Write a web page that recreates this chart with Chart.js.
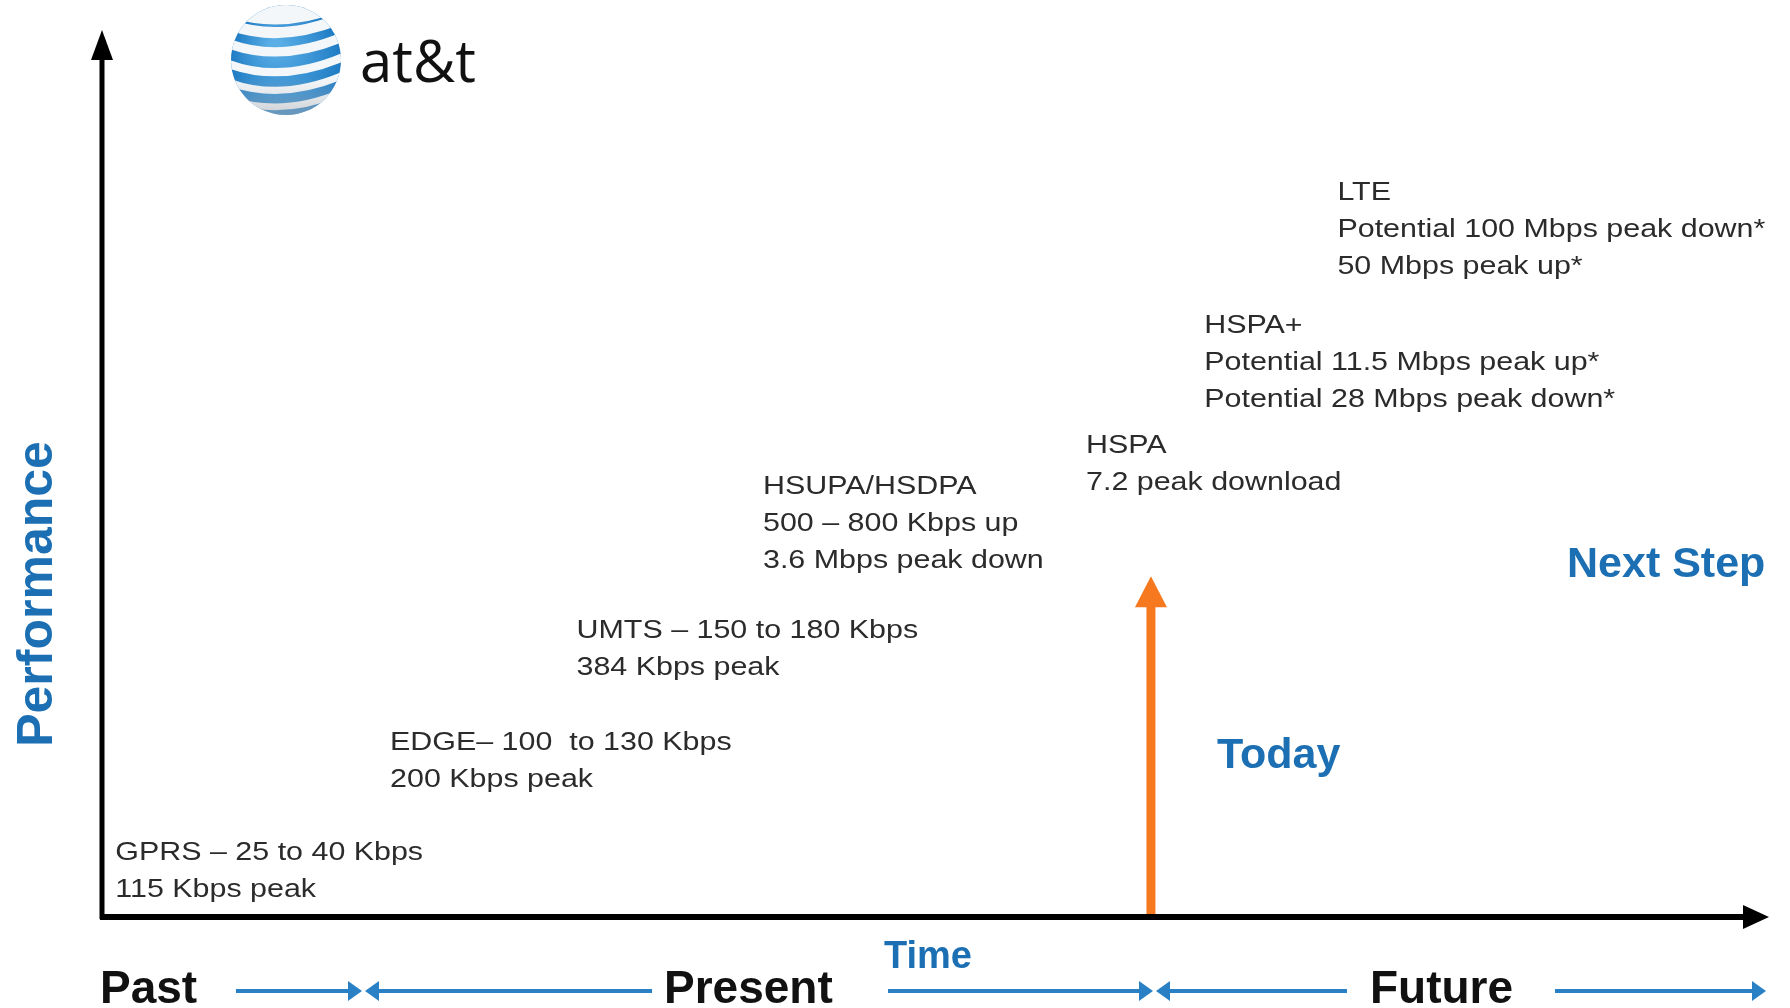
<!DOCTYPE html>
<html>
<head>
<meta charset="utf-8">
<script src="https://cdn.jsdelivr.net/npm/chart.js@4.4.1/dist/chart.umd.min.js"></script>
<style>
  html, body { margin: 0; padding: 0; background: #fff; }
  #evoChart { display: block; }
</style>
</head>
<body>
<canvas id="evoChart" width="1790" height="1008"></canvas>
<script>
// technologies along the time axis
var techNames = ["GPRS", "EDGE", "UMTS", "HSUPA/HSDPA", "HSPA", "HSPA+", "LTE"];
var timeValues = [0.8, 17.3, 28.5, 39.7, 59.1, 66.2, 74.2];
var performanceValues = [6.4, 18.9, 31.5, 47.8, 52.4, 66.0, 81.0];
var techLines = [
  ["GPRS \u2013 25 to 40 Kbps", "115 Kbps peak"],
  ["EDGE\u2013 100  to 130 Kbps", "200 Kbps peak"],
  ["UMTS \u2013 150 to 180 Kbps", "384 Kbps peak"],
  ["HSUPA/HSDPA", "500 \u2013 800 Kbps up", "3.6 Mbps peak down"],
  ["HSPA", "7.2 peak download"],
  ["HSPA+", "Potential 11.5 Mbps peak up*", "Potential 28 Mbps peak down*"],
  ["LTE", "Potential 100 Mbps peak down*", "50 Mbps peak up*"]
];
var todayTime = 63.0;
var todayLevel = 38.5;
var phaseLabels = ["Past", "Present", "Future"];

var BLUE = "#1c6fb3";
var ORANGE = "#f6791f";

function stretchText(ctx, txt, x, y, sx) {
  ctx.save();
  ctx.translate(x, y);
  ctx.scale(sx, 1);
  ctx.fillText(txt, 0, 0);
  ctx.restore();
}

function arrowHead(ctx, tipX, tipY, dir, len, half, color) {
  ctx.fillStyle = color;
  ctx.beginPath();
  if (dir === "up") {
    ctx.moveTo(tipX, tipY); ctx.lineTo(tipX - half, tipY + len); ctx.lineTo(tipX + half, tipY + len);
  } else if (dir === "right") {
    ctx.moveTo(tipX, tipY); ctx.lineTo(tipX - len, tipY - half); ctx.lineTo(tipX - len, tipY + half);
  } else {
    ctx.moveTo(tipX, tipY); ctx.lineTo(tipX + len, tipY - half); ctx.lineTo(tipX + len, tipY + half);
  }
  ctx.closePath();
  ctx.fill();
}

function drawGlobe(ctx, cx, cy, r) {
  ctx.save();
  ctx.beginPath();
  ctx.arc(cx, cy, r, 0, Math.PI * 2);
  ctx.clip();
  var g = ctx.createRadialGradient(cx - r * 0.2, cy - r * 0.3, r * 0.1, cx, cy, r);
  g.addColorStop(0, "#5aaee6");
  g.addColorStop(1, "#1f7cc4");
  ctx.fillStyle = g;
  ctx.fillRect(cx - r, cy - r, r * 2, r * 2);
  // white bands
  ctx.strokeStyle = "#f4f7fa";
  ctx.lineCap = "round";
  var bands = [[-0.95, 0.5], [-0.55, 0.2], [-0.2, 0.17], [0.17, 0.15], [0.5, 0.13], [0.8, 0.12]];
  bands.forEach(function (b) {
    var y0 = cy + b[0] * r;
    ctx.lineWidth = b[1] * r;
    ctx.beginPath();
    ctx.moveTo(cx - r * 1.1, y0 - r * 0.12);
    ctx.quadraticCurveTo(cx - r * 0.1, y0 + r * 0.28, cx + r * 1.1, y0 - r * 0.25);
    ctx.stroke();
  });
  var shade = ctx.createLinearGradient(0, cy + r * 0.3, 0, cy + r);
  shade.addColorStop(0, "rgba(200,200,200,0)");
  shade.addColorStop(1, "rgba(170,175,180,0.55)");
  ctx.fillStyle = shade;
  ctx.fillRect(cx - r, cy, r * 2, r);
  ctx.restore();
}

var diagramPlugin = {
  id: "diagram",
  afterDatasetsDraw: function (chart) {
    var ctx = chart.ctx;
    var area = chart.chartArea;
    var xs = chart.scales.x, ys = chart.scales.y;
    ctx.save();

    // axes
    ctx.strokeStyle = "#000";
    ctx.lineWidth = 5;
    ctx.beginPath();
    ctx.moveTo(area.left, area.bottom + 2);
    ctx.lineTo(area.left, area.top + 25);
    ctx.stroke();
    arrowHead(ctx, area.left, area.top - 2, "up", 30, 11, "#000");
    ctx.lineWidth = 6;
    ctx.beginPath();
    ctx.moveTo(area.left - 2, area.bottom);
    ctx.lineTo(area.right - 20, area.bottom);
    ctx.stroke();
    arrowHead(ctx, area.right + 2, area.bottom, "right", 26, 12, "#000");

    // today arrow
    var tx = xs.getPixelForValue(todayTime);
    var ty = ys.getPixelForValue(todayLevel);
    ctx.strokeStyle = ORANGE;
    ctx.lineWidth = 9;
    ctx.beginPath();
    ctx.moveTo(tx, area.bottom - 3);
    ctx.lineTo(tx, ty + 25);
    ctx.stroke();
    arrowHead(ctx, tx, ty, "up", 31, 16, ORANGE);

    // technology labels
    var meta = chart.getDatasetMeta(0);
    ctx.fillStyle = "#2b2b2b";
    ctx.font = "26px 'Liberation Sans', Arial, sans-serif";
    ctx.textBaseline = "alphabetic";
    ctx.textAlign = "left";
    meta.data.forEach(function (pt, i) {
      techLines[i].forEach(function (line, j) {
        stretchText(ctx, line, pt.x, pt.y + j * 37, 1.17);
      });
    });

    // blue labels
    ctx.fillStyle = BLUE;
    ctx.font = "bold 43px 'Liberation Sans', Arial, sans-serif";
    ctx.fillText("Today", 1217, 768);
    ctx.fillText("Next Step", 1567, 577);
    ctx.font = "bold 38px 'Liberation Sans', Arial, sans-serif";
    ctx.fillText("Time", 884, 968);
    ctx.save();
    ctx.translate(52, 594);
    ctx.rotate(-Math.PI / 2);
    ctx.textAlign = "center";
    ctx.font = "bold 50px 'Liberation Sans', Arial, sans-serif";
    ctx.fillText("Performance", 0, 0);
    ctx.restore();

    // phases row
    ctx.fillStyle = "#111";
    ctx.font = "bold 46px 'Liberation Sans', Arial, sans-serif";
    ctx.fillText(phaseLabels[0], 100, 1003);
    ctx.fillText(phaseLabels[1], 664, 1003);
    ctx.fillText(phaseLabels[2], 1370, 1003);

    var ay = 991;
    ctx.strokeStyle = "#2a80c4";
    ctx.lineWidth = 4;
    var segs = [[236, 350], [375, 652], [888, 1141], [1165, 1347], [1555, 1755]];
    segs.forEach(function (s) {
      ctx.beginPath(); ctx.moveTo(s[0], ay); ctx.lineTo(s[1], ay); ctx.stroke();
    });
    arrowHead(ctx, 362, ay, "right", 14, 10, "#2a80c4");
    arrowHead(ctx, 365, ay, "left", 14, 10, "#2a80c4");
    arrowHead(ctx, 1153, ay, "right", 14, 10, "#2a80c4");
    arrowHead(ctx, 1156, ay, "left", 14, 10, "#2a80c4");
    arrowHead(ctx, 1766, ay, "right", 14, 10, "#2a80c4");

    // logo
    drawGlobe(ctx, 286, 60, 55);
    ctx.fillStyle = "#111";
    ctx.font = "58px 'Open Sans', 'DejaVu Sans', sans-serif";
    ctx.fillText("at&t", 360, 82);

    ctx.restore();
  }
};

var ctxE = document.getElementById("evoChart").getContext("2d");
var evoChart = new Chart(ctxE, {
  type: "scatter",
  data: {
    datasets: [{
      label: "Technology",
      data: timeValues.map(function (t, i) { return { x: t, y: performanceValues[i], name: techNames[i] }; }),
      pointRadius: 0,
      pointHoverRadius: 0
    }]
  },
  options: {
    responsive: false,
    devicePixelRatio: 1,
    animation: false,
    layout: { padding: { left: 102, right: 23, top: 32, bottom: 91 } },
    scales: {
      x: { type: "linear", min: 0, max: 100, display: false },
      y: { type: "linear", min: 0, max: 100, display: false }
    },
    plugins: {
      legend: { display: false },
      tooltip: { enabled: false }
    }
  },
  plugins: [diagramPlugin]
});
</script>
</body>
</html>
